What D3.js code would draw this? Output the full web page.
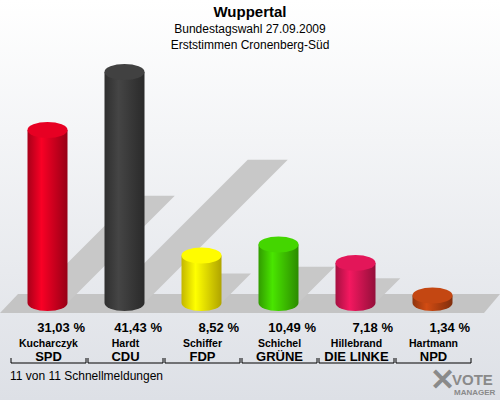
<!DOCTYPE html>
<html><head><meta charset="utf-8">
<script src="https://cdn.jsdelivr.net/npm/d3@7"></script>
<style>body{margin:0}svg{font-family:"Liberation Sans",Arial,sans-serif}</style>
</head><body><div id="chart"></div>
<script>
const candidates = ["Kucharczyk","Hardt","Schiffer","Schichel","Hillebrand","Hartmann"];
const parties = ["SPD","CDU","FDP","GRÜNE","DIE LINKE","NPD"];
const values = [31.03,41.43,8.52,10.49,7.18,1.34];
const colors = ["#d0001f","#3a3a3a","#f2e200","#3dc000","#cc1450","#b04010"];

const width = 500, height = 400;
const svg = d3.select("#chart").append("svg").attr("width", width).attr("height", height);
const defs = svg.append("defs");

const bg = defs.append("linearGradient").attr("id","bg").attr("x1",0).attr("y1",0).attr("x2",0).attr("y2",1);
bg.append("stop").attr("offset",0).attr("stop-color","#ffffff");
bg.append("stop").attr("offset",1).attr("stop-color","#dde0e6");
svg.append("rect").attr("width",width).attr("height",height).attr("fill","url(#bg)");

// title
svg.append("text").attr("x",250).attr("y",17).attr("text-anchor","middle")
  .style("font-weight","bold").style("font-size","15px").text("Wuppertal");
svg.append("text").attr("x",250).attr("y",33).attr("text-anchor","middle")
  .style("font-size","12px").text("Bundestagswahl 27.09.2009");
svg.append("text").attr("x",250).attr("y",49).attr("text-anchor","middle")
  .style("font-size","12px").text("Erststimmen Cronenberg-Süd");

const x = d3.scaleBand().domain(parties).range([10,472]);
const base = 303;
const y = d3.scaleLinear().domain([0,41.43]).range([base,72]);
const rx = 20, ry = 8;

// floor
svg.append("path").attr("d","M0,313 L18,294 L500,294 L484,313 Z").attr("fill","#c4c4c4");

// shadows
svg.append("g").selectAll("path").data(values).join("path")
  .attr("fill","#c8c8c8")
  .attr("d",(d,i)=>{
    const cx = x(parties[i]) + x.bandwidth()/2 - 1;
    const h = base - y(d);
    const dx = h*0.62, dy = h*0.62;
    return `M${cx-rx},${base} L${cx-rx+dx},${base-dy} L${cx+rx+dx},${base-dy} L${cx+rx},${base} Z`;
  });

// cylinders
colors.forEach((c,i)=>{
  const g = defs.append("linearGradient").attr("id","g"+i);
  const col = d3.color(c);
  g.append("stop").attr("offset",0).attr("stop-color",col.darker(0.6));
  g.append("stop").attr("offset",0.35).attr("stop-color",col.brighter(0.5));
  g.append("stop").attr("offset",1).attr("stop-color",col.darker(0.9));
});
const bars = svg.append("g").selectAll("g").data(values).join("g")
  .attr("transform",(d,i)=>`translate(${x(parties[i]) + x.bandwidth()/2 - 1},0)`);
bars.append("path").attr("fill",(d,i)=>`url(#g${i})`)
  .attr("d",d=>`M${-rx},${y(d)} L${-rx},${base} A${rx},${ry} 0 0 0 ${rx},${base} L${rx},${y(d)} Z`);
bars.append("ellipse").attr("cy",d=>y(d)).attr("rx",rx).attr("ry",ry)
  .attr("fill",(d,i)=>d3.color(colors[i]).brighter(0.3));

// labels
const lab = svg.append("g").selectAll("g").data(values).join("g")
  .attr("transform",(d,i)=>`translate(${x(parties[i])},0)`);
lab.append("text").attr("x",x.bandwidth()-2).attr("y",332).attr("text-anchor","end")
  .style("font-weight","bold").style("font-size","13px")
  .text(d=>d.toFixed(2).replace(".",",")+" %");
lab.append("text").attr("x",x.bandwidth()/2).attr("y",347).attr("text-anchor","middle")
  .style("font-weight","bold").style("font-size","10.5px").text((d,i)=>candidates[i]);
lab.append("text").attr("x",x.bandwidth()/2).attr("y",361).attr("text-anchor","middle")
  .style("font-weight","bold").style("font-size","13px").text((d,i)=>parties[i]);
lab.append("path").attr("fill","none").attr("stroke","#000")
  .attr("d",`M1,358 V363 H${x.bandwidth()-1} V358`);

svg.append("text").attr("x",10).attr("y",380).style("font-size","12px").text("11 von 11 Schnellmeldungen");

// logo
const logo = svg.append("g").attr("transform","translate(430,368)");
logo.append("text").attr("x",0).attr("y",22).style("font-size","30px").style("font-weight","bold")
  .attr("fill","#8a8a8a").text("✕");
logo.append("text").attr("x",22).attr("y",17).style("font-size","15px").style("font-weight","bold")
  .attr("fill","#8a8a8a").text("VOTE");
logo.append("text").attr("x",24).attr("y",27).style("font-size","8px").style("font-weight","bold")
  .attr("fill","#8a8a8a").text("MANAGER");
</script></body></html>
